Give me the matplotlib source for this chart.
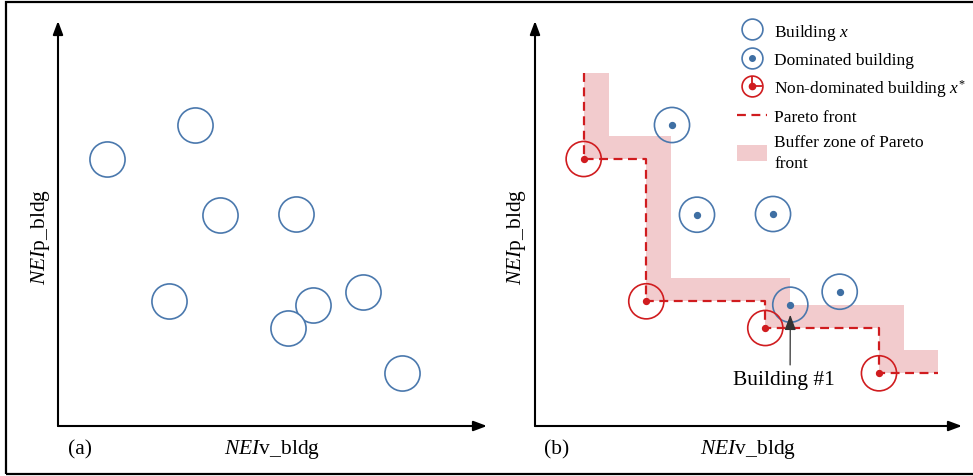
"""Pareto front of buildings: all buildings (a) vs dominated / non-dominated split (b)."""

import matplotlib

matplotlib.use("Agg")
import matplotlib.pyplot as plt
from matplotlib.legend_handler import HandlerTuple
from matplotlib.lines import Line2D
from matplotlib.patches import Patch, Polygon, Rectangle
from matplotlib.path import Path

plt.rcParams["font.family"] = ["Liberation Serif", "DejaVu Serif"]
plt.rcParams["mathtext.fontset"] = "custom"
plt.rcParams["mathtext.rm"] = "Liberation Serif"
plt.rcParams["mathtext.it"] = "Liberation Serif:italic"

# building positions (arbitrary NEI units, same buildings in both panels)
bldg_v = [48.7, 137, 162, 238, 111.3, 255.3, 230.3, 304.7, 344]
bldg_p = [267, 301, 211.3, 212, 124.7, 121.3, 98, 134.3, 52.7]
non_dominated = [True, False, False, False, True, False, True, False, True]
highlight_idx = 5  # "Building #1"
front_start_p = 353
front_end_v = 403
buffer_dv, buffer_dp = 25, 23

BLUE = "#4a78ad"
BLUE_DOT = "#3f6fa3"
RED = "#d01c1f"
PINK = "#f2cbcd"

W, H = 973, 477
fig = plt.figure(figsize=(W / 100, H / 100), dpi=100)


def panel(x0, x1):
    ax = fig.add_axes([x0 / W, 50 / H, (x1 - x0) / W, 405 / H])
    ax.set_xlim(0, x1 - x0)
    ax.set_ylim(0, 405)
    ax.set_axis_off()
    arrow = dict(arrowstyle="-|>,head_length=0.8,head_width=0.3", color="black",
                 lw=1.5, shrinkA=0, shrinkB=0)
    ax.annotate("", xy=(x1 - x0, 0), xytext=(0, 0), arrowprops=arrow)
    ax.annotate("", xy=(0, 405), xytext=(0, 0), arrowprops=arrow)
    return ax


ax_a = panel(58, 487)
ax_b = panel(535, 962)

# panel (a): all buildings
ax_a.scatter(bldg_v, bldg_p, s=640, facecolors="white", edgecolors=BLUE,
             linewidths=1.2, clip_on=False, zorder=3)

# panel (b): Pareto front + buffer
front = [(bldg_v[0], front_start_p)]
nd = [(v, p) for v, p, f in zip(bldg_v, bldg_p, non_dominated) if f]
for i, (v, p) in enumerate(nd):
    front.append((v, p))
    nxt = nd[i + 1][0] if i + 1 < len(nd) else front_end_v
    front.append((nxt, p))
upper = [(front[0][0] + buffer_dv, front_start_p)]
for i, (v, p) in enumerate(nd):
    nxt = nd[i + 1][0] + buffer_dv if i + 1 < len(nd) else front_end_v
    upper.append((v + buffer_dv, p + buffer_dp))
    upper.append((nxt, p + buffer_dp))
ax_b.add_patch(Polygon(front + upper[::-1], closed=True, facecolor=PINK,
                       edgecolor="none", zorder=1))
fv, fp = zip(*front)
ax_b.plot(fv, fp, color=RED, lw=1.6, dashes=(4, 2.5), zorder=2)

dom_v = [v for v, f in zip(bldg_v, non_dominated) if not f]
dom_p = [p for p, f in zip(bldg_p, non_dominated) if not f]
nd_v, nd_p = zip(*nd)
ax_b.scatter(dom_v, dom_p, s=640, facecolors="none", edgecolors=BLUE,
             linewidths=1.2, clip_on=False, zorder=3)
ax_b.scatter(dom_v, dom_p, s=18, color=BLUE_DOT, zorder=4)
ax_b.scatter(nd_v, nd_p, s=640, facecolors="none", edgecolors=RED,
             linewidths=1.2, clip_on=False, zorder=3)
ax_b.scatter(nd_v, nd_p, s=18, color=RED, zorder=4)

ax_b.annotate("Building #1", xy=(bldg_v[highlight_idx], bldg_p[highlight_idx] - 10),
              xytext=(249, 46), ha="center", va="center", fontsize=15.5,
              arrowprops=dict(arrowstyle="-|>,head_length=0.6,head_width=0.22",
                              color="#333333", lw=0.9, relpos=(0.56, 1.0),
                              shrinkA=2, shrinkB=0))

# axis labels and panel tags
for tag, x_tag, x_lab in (("(a)", 80, 272), ("(b)", 557, 748)):
    fig.text(x_tag / W, 1 - 450 / H, tag, ha="center", va="center", fontsize=15.5)
    fig.text(x_lab / W, 1 - 450 / H, r"$NEI$v_bldg", ha="center", va="center",
             fontsize=15.5)
for x_lab in (40, 517):
    fig.text(x_lab / W, 1 - 237 / H, r"$NEI$p_bldg", ha="center", va="center",
             fontsize=15.5, rotation=90)

# legend
corner = Path([(0, 1.35), (0, 0), (1.35, 0)], [Path.MOVETO, Path.LINETO, Path.LINETO])
h_bldg = Line2D([], [], ls="none", marker="o", ms=15, mfc="none", mec=BLUE, mew=1.2)
h_dot_b = Line2D([], [], ls="none", marker="o", ms=4, color=BLUE_DOT)
h_red = Line2D([], [], ls="none", marker="o", ms=15, mfc="none", mec=RED, mew=1.2)
h_dot_r = Line2D([], [], ls="none", marker="o", ms=4.5, color=RED)
h_corner = Line2D([], [], ls="none", marker=corner, ms=15, mfc="none", mec=RED, mew=1.3)
h_front = Line2D([], [], color=RED, lw=1.6, dashes=(4, 2.5))
h_buffer = Patch(facecolor=PINK, edgecolor="none")
leg = fig.legend(
    [h_bldg, (h_bldg, h_dot_b), (h_red, h_dot_r, h_corner), h_front, h_buffer],
    [r"Building $x$", "Dominated building", r"Non-dominated building $x^{*}$",
     "Pareto front", "Buffer zone of Pareto\nfront"],
    handler_map={tuple: HandlerTuple(ndivide=1)},
    loc="upper left", bbox_to_anchor=(737 / W, 1 - 23 / H), frameon=False,
    fontsize=12.5, handlelength=1.7, handleheight=1.0, handletextpad=0.45,
    labelspacing=0.5, borderaxespad=0, borderpad=0,
)
leg.get_texts()[-1].set_linespacing(1.45)

# outer frame
fig.add_artist(Rectangle((5.5 / W, 2.5 / H), 1.0, 1 - 5.5 / H, transform=fig.transFigure,
                         fill=False, edgecolor="black", lw=1.6))

fig.savefig("out.png", dpi=100)
